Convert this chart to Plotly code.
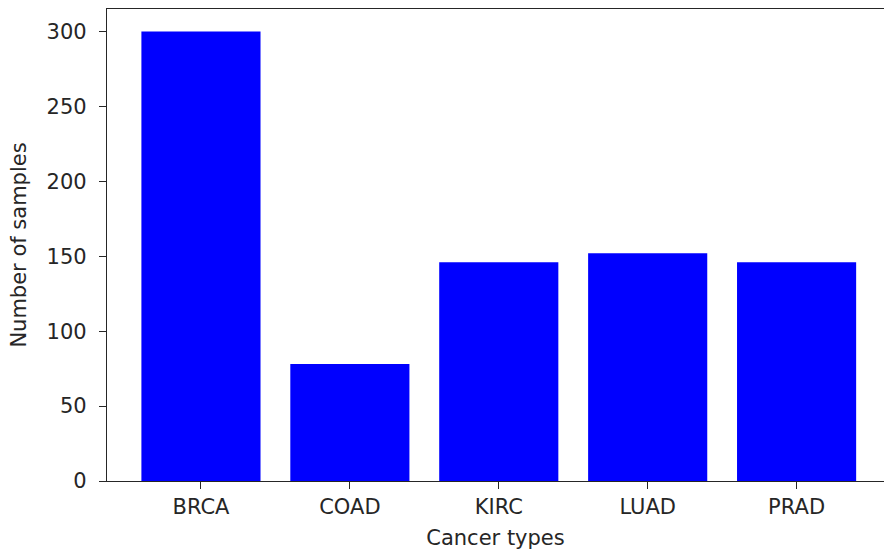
import plotly.graph_objects as go

categories = ["BRCA", "COAD", "KIRC", "LUAD", "PRAD"]
counts = [300, 78, 146, 152, 146]
y_ticks = [0, 50, 100, 150, 200, 250, 300]

fig = go.Figure(
    go.Bar(
        x=list(range(len(categories))),
        y=counts,
        width=0.8,
        marker=dict(color="#0000ff", line=dict(width=0)),
    )
)

font = dict(family="DejaVu Sans", size=21, color="#262626")

fig.update_layout(
    width=884,
    height=553,
    margin=dict(l=107, r=0, t=9, b=72),
    plot_bgcolor="white",
    paper_bgcolor="white",
    font=font,
    showlegend=False,
    xaxis=dict(
        range=[-0.631, 4.587],
        tickmode="array",
        tickvals=list(range(len(categories))),
        ticktext=categories,
        showgrid=False,
        zeroline=False,
        showline=True,
        linecolor="#262626",
        linewidth=1.3,
        mirror=True,
        ticks="outside",
        ticklen=7,
        tickcolor="#262626",
        automargin=False,
        title=dict(text="Cancer types", font=font, standoff=11),
    ),
    yaxis=dict(
        range=[0, 315],
        tickmode="array",
        tickvals=y_ticks,
        showgrid=False,
        zeroline=False,
        showline=True,
        linecolor="#262626",
        linewidth=1.3,
        mirror=False,
        ticks="outside",
        ticklen=7,
        ticklabelstandoff=8,
        tickcolor="#262626",
        automargin=False,
        title=dict(text="Number of samples", font=font, standoff=14),
    ),
)

fig.write_html(
    "out.html",
    config={"displayModeBar": False},
    post_script="document.body.style.margin='0';document.body.style.padding='0';",
)
